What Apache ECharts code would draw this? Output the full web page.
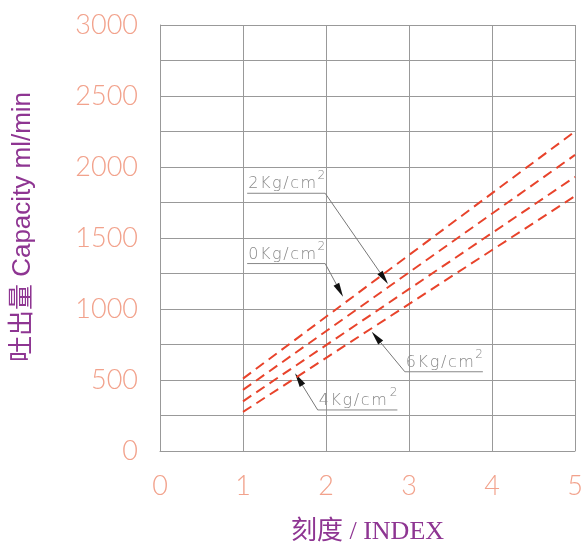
<!DOCTYPE html>
<html><head><meta charset="utf-8">
<script src="https://cdn.jsdelivr.net/npm/echarts@6/dist/echarts.min.js"></script>
<style>html,body{margin:0;padding:0;background:#fff}#c{width:583px;height:545px}</style>
</head><body><div id="c"></div>
<script>
// ---- data ----
const xTickLabels = [0, 1, 2, 3, 4, 5];
const yTickLabels = [0, 500, 1000, 1500, 2000, 2500, 3000];
const indexValues = [1, 5];
const cap0 = [510, 2250];
const cap2 = [430, 2085];
const cap4 = [350, 1930];
const cap6 = [275, 1795];
const seriesNames = ['0Kg/cm2', '2Kg/cm2', '4Kg/cm2', '6Kg/cm2'];
// annotation leaders (data coords): underline [xStart, xEnd, y], arrow tip [x, y], attach side
const annoText = ['0Kg/cm', '2Kg/cm', '4Kg/cm', '6Kg/cm'];
const annoUnder = [[1.05, 1.99, 1320], [1.05, 1.99, 1815], [1.9, 2.86, 289], [2.95, 3.89, 558]];
const annoTip = [[2.205, 1087], [2.747, 1176], [1.627, 547], [2.551, 840]];
const annoSide = ['right', 'right', 'left', 'left'];

const chart = echarts.init(document.getElementById('c'), null, {renderer: 'canvas'});
const lineColor = '#E8432B';
const series = [cap0, cap2, cap4, cap6].map((arr, i) => ({
  name: seriesNames[i], type: 'line', silent: true, showSymbol: false,
  data: indexValues.map((x, k) => [x, arr[k]]),
  lineStyle: {color: lineColor, width: 2, type: [10, 6]}
}));
const tickColor = '#F2A28C';
const nameColor = '#8E3592';
chart.setOption({
  animation: false,
  grid: {left: 160, right: 8, top: 25, bottom: 94, containLabel: false, outerBoundsMode: 'none'},
  xAxis: {
    type: 'value', min: 0, max: 5, interval: 1,
    axisLine: {show: true, lineStyle: {color: '#999', width: 1}},
    axisTick: {show: false},
    splitLine: {show: true, lineStyle: {color: '#999', width: 1}},
    axisLabel: {color: tickColor, fontSize: 27, fontFamily: 'Lato', fontWeight: 300, margin: 22,
      formatter: v => xTickLabels.includes(v) ? String(v) : ''},
    name: '刻度 / INDEX', nameLocation: 'middle', nameGap: 68,
    nameTextStyle: {color: nameColor, fontSize: 26, fontFamily: '"Liberation Serif", "Noto Sans CJK TC"'}
  },
  yAxis: {
    type: 'value', min: 0, max: 3000, interval: 250,
    axisLine: {show: true, lineStyle: {color: '#999', width: 1}},
    axisTick: {show: false},
    splitLine: {show: true, lineStyle: {color: '#999', width: 1}},
    axisLabel: {color: tickColor, fontSize: 27, fontFamily: 'Lato', fontWeight: 300, margin: 22,
      formatter: v => yTickLabels.includes(v) ? String(v) : ''},
    name: '吐出量 Capacity ml/min', nameLocation: 'middle', nameGap: 124, nameRotate: 90,
    nameTextStyle: {color: nameColor, fontSize: 26, padding: [0, 0, 0, 22],
      fontFamily: '"Liberation Sans", "Noto Sans CJK TC"'}
  },
  series: series
});

function drawAnnotations() {
  const g = [];
  const toPx = p => chart.convertToPixel({gridIndex: 0}, p);
  annoText.forEach((t, i) => {
    const u = annoUnder[i];
    const a = toPx([u[0], u[2]]);
    const b = toPx([u[1], u[2]]);
    const tip = toPx(annoTip[i]);
    const start = annoSide[i] === 'right' ? b : a;
    g.push({type: 'line', silent: true, shape: {x1: a[0], y1: a[1], x2: b[0], y2: b[1]},
      style: {stroke: '#888', lineWidth: 1}});
    const dx = tip[0] - start[0], dy = tip[1] - start[1];
    const len = Math.sqrt(dx * dx + dy * dy);
    const ux = dx / len, uy = dy / len;
    const hl = 14, hw = 3.2;
    const bx = tip[0] - ux * hl, by = tip[1] - uy * hl;
    g.push({type: 'line', silent: true, shape: {x1: start[0], y1: start[1], x2: bx, y2: by},
      style: {stroke: '#777', lineWidth: 1}});
    g.push({type: 'polygon', silent: true, shape: {points: [
      [tip[0], tip[1]], [bx - uy * hw, by + ux * hw], [bx + uy * hw, by - ux * hw]]},
      style: {fill: '#111'}});
    g.push({type: 'text', silent: true, x: a[0] + 1, y: a[1] - 1,
      style: {text: t.split('').join('\u200A'), fill: '#8a8a8a', font: '300 16px "DejaVu Sans"',
        textAlign: 'left', textVerticalAlign: 'bottom'}});
    g.push({type: 'text', silent: true, x: b[0], y: a[1] - 11,
      style: {text: '2', fill: '#8a8a8a', font: '300 12px "DejaVu Sans"',
        textAlign: 'right', textVerticalAlign: 'bottom'}});
  });
  chart.setOption({graphic: g});
}
drawAnnotations();
</script>
</body></html>
